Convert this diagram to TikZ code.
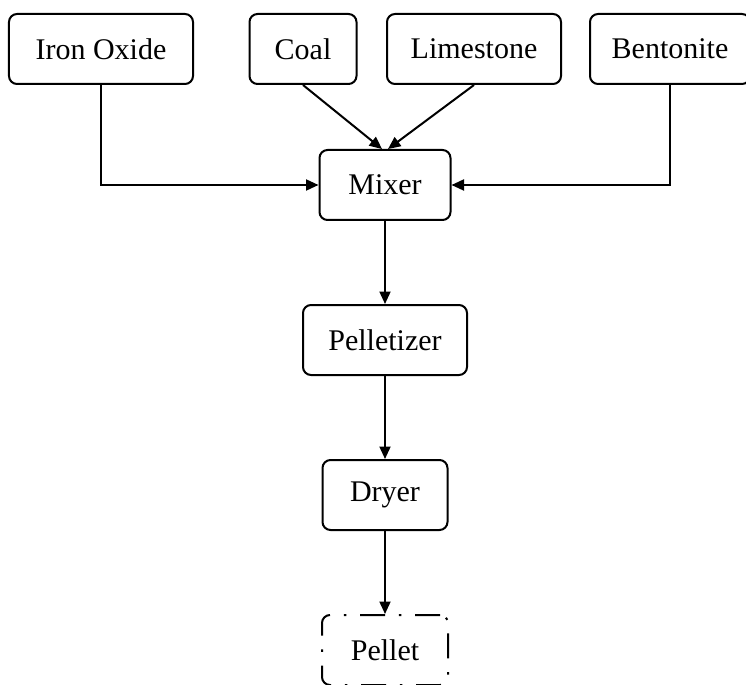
\documentclass[tikz,border=0pt]{standalone}
\usepackage{fontspec}
\setmainfont{Liberation Serif}
\usetikzlibrary{arrows.meta}
\tikzset{
	unit/.style={draw, rounded corners=3.2pt, line width=0.8pt, minimum height=28pt, font=\fontsize{12}{14}\selectfont},
	product/.style={unit, dash pattern=on 10pt off 5.5pt on 1pt off 5.5pt},
	elbow/.style={to path={|- (\tikztotarget) \tikztonodes}}
}
\begin{document}
\begin{tikzpicture}[x=0.4pt,y=-0.4pt,node distance=62pt,line width=0.8pt,>={Triangle[length=5pt,width=4.4pt]}]
		\useasboundingbox (0,0) rectangle (746,685);
		\node[unit,minimum width=73.6pt](iron) at (101,49){Iron Oxide};
		\node[unit,minimum width=42.8pt](coal) at (303,49){Coal};
		\node[unit,minimum width=69.6pt](lime) at (474,49){Limestone};
		\node[unit,minimum width=64pt](bento) at (670,49){Bentonite};
		\node[unit,minimum width=52.4pt](mixer) at (385,185){Mixer};
		\node[unit,minimum width=65.6pt,below of=mixer](pellet){Pelletizer};
		\node[unit,minimum width=50pt,below of=pellet](dryer){Dryer};
		\node[product,minimum width=50.4pt,below of=dryer](out){Pellet};
		\path[->]
		(iron) edge[elbow] (mixer)
		(bento) edge[elbow] (mixer)
		(coal.south) edge ([xshift=-1.2pt]mixer.north)
		(lime.south) edge ([xshift=1.2pt]mixer.north)
		(mixer) edge (pellet)
		(pellet) edge (dryer)
		(dryer) edge (out);
		
		\end{tikzpicture}
\end{document}
